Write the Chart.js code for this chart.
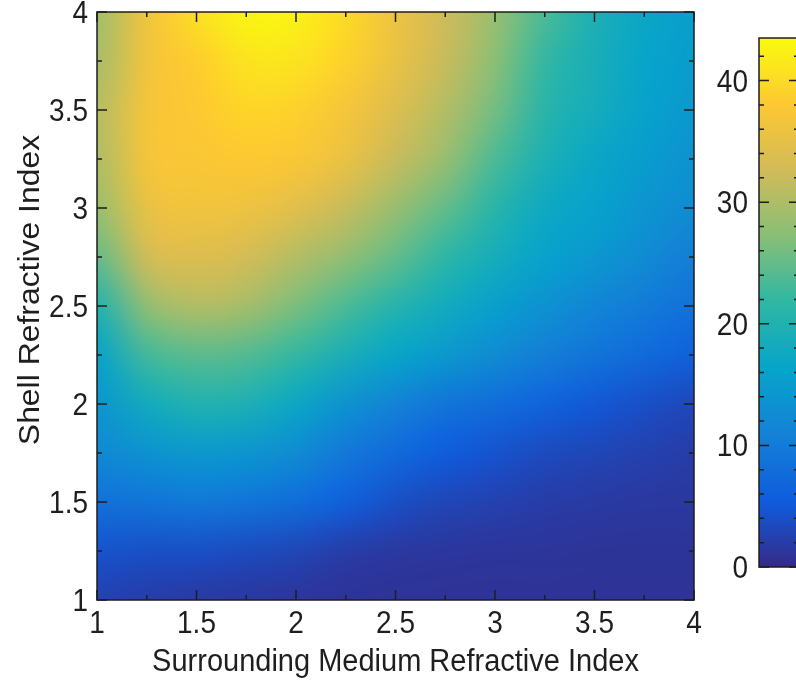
<!DOCTYPE html>
<html>
<head>
<meta charset="utf-8">
<script src="https://cdn.jsdelivr.net/npm/chart.js@4.4.0/dist/chart.umd.min.js"></script>
<style>
  html, body { margin: 0; padding: 0; background: #fff; }
</style>
</head>
<body>
<canvas id="heat" width="796" height="681"></canvas>
<script>
// grid nodes of the map
var xValues = [1, 1.25, 1.5, 1.75, 2, 2.25, 2.5, 2.75, 3, 3.25, 3.5, 3.75, 4];
var yValues = [4, 3.75, 3.5, 3.25, 3, 2.75, 2.5, 2.25, 2, 1.75, 1.5, 1.25, 1];

// values, one row per shell index (top row first)
var zY400 = [29, 36.5, 40.5, 43, 42.5, 40, 36, 32.5, 28.5, 23.5, 19.5, 17, 15.5];
var zY375 = [29.5, 36.5, 38.5, 41, 41, 39, 35.5, 32, 27.5, 22, 19, 16.5, 15];
var zY350 = [30.5, 37, 38, 39.5, 39, 37, 34, 30.5, 26, 21, 18.5, 16, 14.5];
var zY325 = [30, 37, 37.5, 38, 37.5, 35.5, 32, 28.5, 23.5, 19.5, 17, 15, 13.5];
var zY300 = [28.5, 35.5, 36.5, 36, 34.5, 32, 28.5, 25, 21, 17.5, 16, 14, 12.5];
var zY275 = [25, 33, 34, 33, 30.5, 28, 25, 21.5, 18.5, 16, 14.5, 12.5, 10.5];
var zY250 = [20, 28, 30.5, 29.5, 26.5, 23.5, 20.5, 18, 15.5, 13.5, 11.5, 10, 8.5];
var zY225 = [16, 23, 24.5, 24, 22, 19, 16.5, 14.5, 12.5, 10.5, 9, 7.5, 6];
var zY200 = [14, 18, 20, 19.5, 17, 13.5, 11, 9, 8, 6.5, 5, 4, 3.2];
var zY175 = [12, 13.5, 14.5, 14, 12.5, 9.5, 7.5, 5.5, 4.5, 3.5, 3, 2.5, 2];
var zY150 = [8.5, 9, 9.5, 9, 8, 6, 4, 3, 2.5, 2, 1.7, 1.5, 1.5];
var zY125 = [4.5, 4, 4, 3.5, 3, 2, 1.5, 1.3, 1.2, 1.2, 1.1, 1.1, 1.1];
var zY100 = [2.5, 2, 1.6, 1.4, 1.2, 1, 1, 1, 1, 1, 1, 1, 1];
var zRows = [zY400, zY375, zY350, zY325, zY300, zY275, zY250, zY225, zY200, zY175, zY150, zY125, zY100];

var axisTicks = [1, 1.5, 2, 2.5, 3, 3.5, 4];
var minorTicks = [1.25, 1.75, 2.25, 2.75, 3.25, 3.75];
var cbTicks = [0, 10, 20, 30, 40];
var cbMinor = [2, 4, 6, 8, 12, 14, 16, 18, 22, 24, 26, 28, 32, 34, 36, 38, 42];
var cbMin = 0, cbMax = 43.5;

var xTitle = 'Surrounding Medium Refractive Index';
var yTitle = 'Shell Refractive Index';

// parula colour map
var parulaStops = ['#352a87', '#0f5cdd', '#1481d6', '#06a4ca', '#2eb7a4', '#87bf77', '#d1bb59', '#fec832', '#f9fb0e'];
function hexRgb(h) {
    return [parseInt(h.substr(1, 2), 16), parseInt(h.substr(3, 2), 16), parseInt(h.substr(5, 2), 16)];
}
function parula(t) {
    t = Math.max(0, Math.min(1, t));
    var s = t * (parulaStops.length - 1);
    var i = Math.min(Math.floor(s), parulaStops.length - 2);
    var f = s - i;
    var a = hexRgb(parulaStops[i]), b = hexRgb(parulaStops[i + 1]);
    return [a[0] + (b[0] - a[0]) * f, a[1] + (b[1] - a[1]) * f, a[2] + (b[2] - a[2]) * f];
}

var points = [];
for (var j = 0; j < yValues.length; j++) {
    for (var i = 0; i < xValues.length; i++) {
        points.push({ x: xValues[i], y: yValues[j], v: zRows[j][i] });
    }
}

var inkColor = '#1e1e1e';
var fontFamily = '"Liberation Sans", Arial, sans-serif';
var stretchY = 1.1;   // the original figure is a little taller than wide

function stretchedText(ctx, txt, x, y, align, size, rotate) {
    ctx.save();
    ctx.translate(x, y);
    ctx.scale(1, stretchY);
    if (rotate) ctx.rotate(-Math.PI / 2);
    ctx.font = size + 'px ' + fontFamily;
    ctx.fillStyle = inkColor;
    ctx.textAlign = align;
    ctx.textBaseline = 'alphabetic';
    ctx.fillText(txt, 0, 0);
    ctx.restore();
}

// heat map: one pixel per grid node, scaled up with smoothing (shading interp)
var heatPlugin = {
    id: 'heat',
    beforeDatasetsDraw: function (chart) {
        var ctx = chart.ctx, xs = chart.scales.x, ys = chart.scales.y;
        var nx = xValues.length, ny = yValues.length;
        var off = document.createElement('canvas');
        off.width = nx; off.height = ny;
        var octx = off.getContext('2d');
        var img = octx.createImageData(nx, ny);
        chart.data.datasets[0].data.forEach(function (p) {
            var c = parula((p.v - cbMin) / (cbMax - cbMin));
            var k = (yValues.indexOf(p.y) * nx + xValues.indexOf(p.x)) * 4;
            img.data[k] = c[0]; img.data[k + 1] = c[1]; img.data[k + 2] = c[2]; img.data[k + 3] = 255;
        });
        octx.putImageData(img, 0, 0);

        var x0 = xs.getPixelForValue(xValues[0]), x1 = xs.getPixelForValue(xValues[nx - 1]);
        var y0 = ys.getPixelForValue(yValues[0]), y1 = ys.getPixelForValue(yValues[ny - 1]);
        ctx.save();
        ctx.imageSmoothingEnabled = true;
        ctx.imageSmoothingQuality = 'high';
        ctx.drawImage(off, 0.5, 0.5, nx - 1, ny - 1, x0, y0, x1 - x0, y1 - y0);
        ctx.restore();
    },
    afterDraw: function (chart) {
        var ctx = chart.ctx, xs = chart.scales.x, ys = chart.scales.y;
        var a = chart.chartArea;
        ctx.save();
        ctx.strokeStyle = inkColor;
        ctx.lineWidth = 1.5;
        ctx.strokeRect(a.left, a.top, a.right - a.left, a.bottom - a.top);

        function tickMarks(vals, len) {
            vals.forEach(function (v) {
                var px = xs.getPixelForValue(v), py = ys.getPixelForValue(v);
                ctx.beginPath();
                ctx.moveTo(px, a.bottom); ctx.lineTo(px, a.bottom - len);
                ctx.moveTo(px, a.top); ctx.lineTo(px, a.top + len);
                ctx.moveTo(a.left, py); ctx.lineTo(a.left + len, py);
                ctx.moveTo(a.right, py); ctx.lineTo(a.right - len, py);
                ctx.stroke();
            });
        }
        tickMarks(axisTicks, 10);
        tickMarks(minorTicks, 5);

        // tick labels and axis titles
        axisTicks.forEach(function (v) {
            stretchedText(ctx, String(v), xs.getPixelForValue(v), a.bottom + 33, 'center', 28);
            stretchedText(ctx, String(v), a.left - 9, ys.getPixelForValue(v) + 11, 'right', 28);
        });
        stretchedText(ctx, xTitle, (a.left + a.right) / 2, 671, 'center', 29);
        stretchedText(ctx, yTitle, 39, (a.top + a.bottom) / 2 - 16, 'center', 29, true);

        // colorbar
        var cbL = 759, cbR = 799, cbT = 38, cbB = 567;
        function cbY(v) { return cbB - (v - cbMin) / (cbMax - cbMin) * (cbB - cbT); }
        var grad = ctx.createLinearGradient(0, cbB, 0, cbT);
        for (var s = 0; s <= 64; s++) {
            var c = parula(s / 64);
            grad.addColorStop(s / 64, 'rgb(' + Math.round(c[0]) + ',' + Math.round(c[1]) + ',' + Math.round(c[2]) + ')');
        }
        ctx.fillStyle = grad;
        ctx.fillRect(cbL, cbT, cbR - cbL, cbB - cbT);
        ctx.strokeRect(cbL, cbT, cbR - cbL, cbB - cbT);
        function cbMarks(vals, len) {
            vals.forEach(function (v) {
                var py = cbY(v);
                ctx.beginPath();
                ctx.moveTo(cbL, py); ctx.lineTo(cbL + len, py);
                ctx.moveTo(cbR, py); ctx.lineTo(cbR - len, py);
                ctx.stroke();
            });
        }
        cbMarks(cbTicks, 10);
        cbMarks(cbMinor, 5);
        cbTicks.forEach(function (v) {
            stretchedText(ctx, String(v), cbL - 11, cbY(v) + 11, 'right', 28);
        });
        ctx.restore();
    }
};

var ctx = document.getElementById('heat');
var heatChart = new Chart(ctx, {
    type: 'scatter',
    data: {
        datasets: [{
            label: 'map',
            data: points,
            pointRadius: 0,
            pointHoverRadius: 0,
            showLine: false
        }]
    },
    options: {
        responsive: false,
        animation: false,
        devicePixelRatio: 1,
        events: [],
        layout: { padding: { left: 0, top: 12, right: 102, bottom: 0 } },
        plugins: { legend: { display: false }, tooltip: { enabled: false } },
        scales: {
            x: {
                type: 'linear', position: 'bottom', min: 1, max: 4,
                afterBuildTicks: function (s) { s.ticks = axisTicks.map(function (v) { return { value: v }; }); },
                afterFit: function (s) { s.height = 81; s.paddingLeft = 0; s.paddingRight = 0; },
                grid: { display: false, drawTicks: false },
                border: { display: false },
                ticks: { display: false }
            },
            y: {
                type: 'linear', position: 'left', min: 1, max: 4,
                afterBuildTicks: function (s) { s.ticks = axisTicks.map(function (v) { return { value: v }; }); },
                afterFit: function (s) { s.width = 97; s.paddingTop = 0; s.paddingBottom = 0; },
                grid: { display: false, drawTicks: false },
                border: { display: false },
                ticks: { display: false }
            }
        }
    },
    plugins: [heatPlugin]
});
</script>
</body>
</html>
